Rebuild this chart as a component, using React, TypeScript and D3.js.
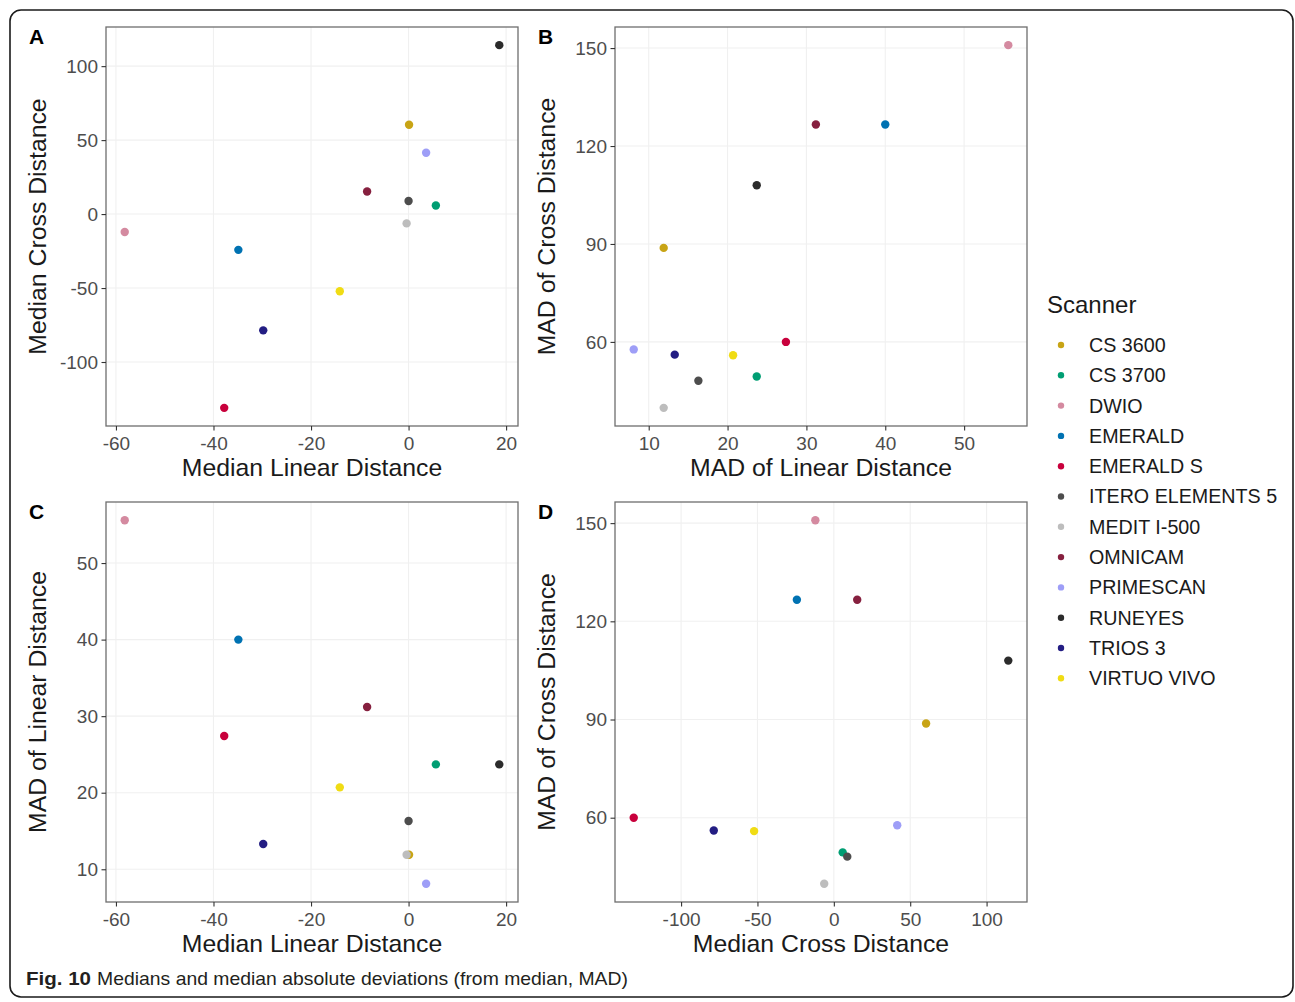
import React, { useEffect, useRef } from "react";
import * as d3 from "d3";

const scanners = [
  "CS 3600",
  "CS 3700",
  "DWIO",
  "EMERALD",
  "EMERALD S",
  "ITERO ELEMENTS 5",
  "MEDIT I-500",
  "OMNICAM",
  "PRIMESCAN",
  "RUNEYES",
  "TRIOS 3",
  "VIRTUO VIVO",
];
const scannerColors = [
  "#C8A415",
  "#009E73",
  "#D48AA0",
  "#0072B2",
  "#C8003C",
  "#4D4D4D",
  "#BDBDBD",
  "#86203F",
  "#9E9EF7",
  "#2B2B2B",
  "#231D83",
  "#F0DC14",
];
const medianLinear = [0.1, 5.6, -58.2, -34.9, -37.8, 0.0, -0.4, -8.5, 3.6, 18.6, -29.8, -14.1];
const medianCross = [60.4, 5.8, -12.1, -24.2, -131.0, 8.8, -6.3, 15.3, 41.5, 114.2, -78.6, -52.2];
const madLinear = [11.9, 23.7, 55.6, 40.0, 27.4, 16.3, 11.9, 31.2, 8.1, 23.7, 13.3, 20.7];
const madCross = [88.8, 49.4, 150.9, 126.6, 60.0, 48.1, 39.8, 126.6, 57.7, 108.0, 56.1, 55.9];

const ticksMedianLinear = [-60, -40, -20, 0, 20];
const ticksMedianCross = [-100, -50, 0, 50, 100];
const ticksMadLinear = [10, 20, 30, 40, 50];
const ticksMadCross = [60, 90, 120, 150];

const FONT = "'Liberation Sans', Arial, Helvetica, sans-serif";

function expand(vals: number[]): [number, number] {
  const [a, b] = d3.extent(vals) as [number, number];
  const p = (b - a) * 0.05;
  return [a - p, b + p];
}

type PanelProps = {
  letter: string;
  x0: number;
  y0: number;
  w: number;
  h: number;
  xs: number[];
  ys: number[];
  xTicks: number[];
  yTicks: number[];
  xTitle: string;
  yTitle: string;
  letterX: number;
  letterY: number;
};

function Panel(p: PanelProps) {
  const xRef = useRef<SVGGElement>(null);
  const yRef = useRef<SVGGElement>(null);
  const x = d3.scaleLinear().domain(expand(p.xs)).range([0, p.w]);
  const y = d3.scaleLinear().domain(expand(p.ys)).range([p.h, 0]);

  useEffect(() => {
    const gx = d3.select(xRef.current!);
    gx.call(
      d3
        .axisBottom(x)
        .tickValues(p.xTicks)
        .tickSize(4.5)
        .tickPadding(6)
        .tickFormat((d) => String(d))
    );
    const gy = d3.select(yRef.current!);
    gy.call(
      d3
        .axisLeft(y)
        .tickValues(p.yTicks)
        .tickSize(4.5)
        .tickPadding(3.5)
        .tickFormat((d) => String(d))
    );
    [gx, gy].forEach((g) => {
      g.select(".domain").remove();
      g.selectAll(".tick line").attr("stroke", "#333333").attr("stroke-width", 1.1);
      g.selectAll(".tick text")
        .attr("fill", "#4D4D4D")
        .style("font-size", "19px")
        .style("font-family", FONT);
    });
  });

  return (
    <g>
      <text
        x={p.letterX}
        y={p.letterY}
        fontFamily={FONT}
        fontWeight="bold"
        fontSize={21}
        fill="#000"
      >
        {p.letter}
      </text>
      <g transform={`translate(${p.x0},${p.y0})`}>
        <rect x={0} y={0} width={p.w} height={p.h} fill="#fff" />
        {p.xTicks.map((t) => (
          <line key={"gx" + t} x1={x(t)} x2={x(t)} y1={0} y2={p.h} stroke="#F0F0F0" strokeWidth={1.1} />
        ))}
        {p.yTicks.map((t) => (
          <line key={"gy" + t} x1={0} x2={p.w} y1={y(t)} y2={y(t)} stroke="#F0F0F0" strokeWidth={1.1} />
        ))}
        {scanners.map((s, i) => (
          <circle key={s} cx={x(p.xs[i])} cy={y(p.ys[i])} r={4.2} fill={scannerColors[i]} />
        ))}
        <rect x={0} y={0} width={p.w} height={p.h} fill="none" stroke="#6E6E6E" strokeWidth={1.3} />
        <g ref={xRef} transform={`translate(0,${p.h})`} />
        <g ref={yRef} />
        <text
          x={p.w / 2}
          y={p.h + 50}
          textAnchor="middle"
          fontFamily={FONT}
          fontSize={24.8}
          fill="#1A1A1A"
        >
          {p.xTitle}
        </text>
        <text
          transform={`translate(${-60},${p.h / 2}) rotate(-90)`}
          textAnchor="middle"
          fontFamily={FONT}
          fontSize={24.8}
          fill="#1A1A1A"
        >
          {p.yTitle}
        </text>
      </g>
    </g>
  );
}

export default function App() {
  const W = 1295;
  const H = 1002;
  const pw = 412;
  const ph = 399;
  return (
    <svg
      width={W}
      height={H}
      style={{ position: "absolute", left: 0, top: 0, background: "#fff" }}
    >
      <rect x={0} y={0} width={W} height={H} fill="#fff" />
      <rect
        x={10}
        y={10}
        width={1283}
        height={987}
        rx={11}
        ry={11}
        fill="none"
        stroke="#1A1A1A"
        strokeWidth={1.6}
      />
      <Panel
        letter="A"
        x0={106}
        y0={27}
        w={pw}
        h={ph}
        xs={medianLinear}
        ys={medianCross}
        xTicks={ticksMedianLinear}
        yTicks={ticksMedianCross}
        xTitle="Median Linear Distance"
        yTitle="Median Cross Distance"
        letterX={29}
        letterY={44}
      />
      <Panel
        letter="B"
        x0={615}
        y0={27}
        w={pw}
        h={ph}
        xs={madLinear}
        ys={madCross}
        xTicks={ticksMadLinear}
        yTicks={ticksMadCross}
        xTitle="MAD of Linear Distance"
        yTitle="MAD of Cross Distance"
        letterX={538}
        letterY={44}
      />
      <Panel
        letter="C"
        x0={106}
        y0={502}
        w={pw}
        h={400}
        xs={medianLinear}
        ys={madLinear}
        xTicks={ticksMedianLinear}
        yTicks={ticksMadLinear}
        xTitle="Median Linear Distance"
        yTitle="MAD of Linear Distance"
        letterX={29}
        letterY={519}
      />
      <Panel
        letter="D"
        x0={615}
        y0={502}
        w={pw}
        h={400}
        xs={medianCross}
        ys={madCross}
        xTicks={ticksMedianCross}
        yTicks={ticksMadCross}
        xTitle="Median Cross Distance"
        yTitle="MAD of Cross Distance"
        letterX={538}
        letterY={519}
      />
      <g>
        <text x={1047} y={313} fontFamily={FONT} fontSize={24} fill="#1A1A1A">
          Scanner
        </text>
        {scanners.map((s, i) => (
          <g key={s} transform={`translate(0,${345 + i * 30.3})`}>
            <circle cx={1061} cy={0} r={3.2} fill={scannerColors[i]} />
            <text
              x={1089}
              y={0}
              dy="0.35em"
              fontFamily={FONT}
              fontSize={19.7}
              fill="#1A1A1A"
            >
              {s}
            </text>
          </g>
        ))}
      </g>
      <text x={26} y={985} fontFamily={FONT} fontSize={19} fill="#231F20">
        <tspan fontWeight="bold" textLength={65} lengthAdjust="spacingAndGlyphs">
          Fig. 10
        </tspan>
        <tspan x={97} textLength={531} lengthAdjust="spacingAndGlyphs">
          Medians and median absolute deviations (from median, MAD)
        </tspan>
      </text>
    </svg>
  );
}
